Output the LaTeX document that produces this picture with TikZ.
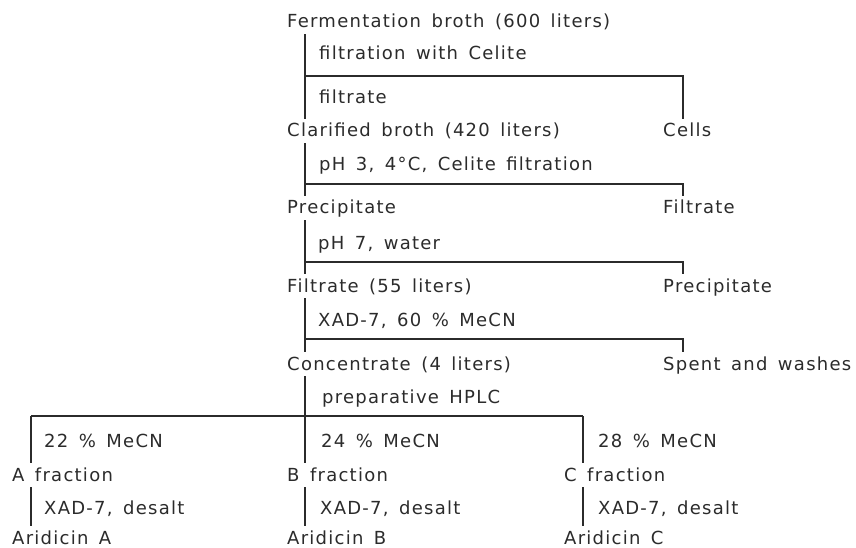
\documentclass[tikz,border=0pt]{standalone}
\usepackage{fontspec}
\setmainfont{DejaVu Sans}[LetterSpace=7,WordSpace=1.5]
\definecolor{ink}{HTML}{2B2B2B}
\begin{document}
\begin{tikzpicture}[x=1pt,y=-1pt,
  txt/.style={anchor=base west, inner xsep=0pt, inner ysep=3pt, text height=15pt, text depth=3pt,
              font=\fontsize{18}{21}\selectfont, text=ink},
  ln/.style={draw=ink, line width=1.5pt}]
\useasboundingbox (0,0) rectangle (856,548);
% trunk x positions
\coordinate (tr) at (305,0);
\coordinate (rc) at (683,0);
\coordinate (la) at (31,0);
\coordinate (lc) at (583,0);
% main column
\node[txt] (ferm)   at (287,28)  {Fermentation broth (600 liters)};
\node[txt] (l1)     at (319,60)  {filtration with Celite};
\node[txt] (l2)     at (319,104) {filtrate};
\node[txt] (clar)   at (287,137) {Clarified broth (420 liters)};
\node[txt] (cells)  at (663,137) {Cells};
\node[txt] (l3)     at (319,171) {pH 3, 4°C, Celite filtration};
\node[txt] (prec)   at (287,214) {Precipitate};
\node[txt] (filt)   at (663,214) {Filtrate};
\node[txt] (l4)     at (318,249) {pH 7, water};
\node[txt] (filtb)  at (287,292) {Filtrate (55 liters)};
\node[txt] (precb)  at (663,292) {Precipitate};
\node[txt] (l5)     at (318,326) {XAD-7, 60 \% MeCN};
\node[txt] (conc)   at (287,370) {Concentrate (4 liters)};
\node[txt] (spent)  at (663,370) {Spent and washes};
\node[txt] (l6)     at (322,403) {preparative HPLC};
% fractions
\node[txt] (l7a)    at (44,447)  {22 \% MeCN};
\node[txt] (l7b)    at (321,447) {24 \% MeCN};
\node[txt] (l7c)    at (598,447) {28 \% MeCN};
\node[txt] (fa)     at (12,481)  {A fraction};
\node[txt] (fb)     at (287,481) {B fraction};
\node[txt] (fc)     at (564,481) {C fraction};
\node[txt] (l8a)    at (44,514)  {XAD-7, desalt};
\node[txt] (l8b)    at (320,514) {XAD-7, desalt};
\node[txt] (l8c)    at (598,514) {XAD-7, desalt};
\node[txt, text depth=0pt] (ara) at (12,544)  {Aridicin A};
\node[txt, text depth=0pt] (arb) at (287,544) {Aridicin B};
\node[txt, text depth=0pt] (arc) at (564,544) {Aridicin C};
% junctions
\coordinate (j1) at (305,76);
\coordinate (j2) at (305,184);
\coordinate (j3) at (305,262);
\coordinate (j4) at (305,339);
\coordinate (ja) at (31,416);
\coordinate (jc) at (583,416);
% connectors
\draw[ln] (ferm.south -| tr) -- (clar.north -| tr);
\draw[ln] (j1) -| (cells.north -| rc);
\draw[ln] (clar.south -| tr) -- (prec.north -| tr);
\draw[ln] (j2) -| (filt.north -| rc);
\draw[ln] (prec.south -| tr) -- (filtb.north -| tr);
\draw[ln] (j3) -| (precb.north -| rc);
\draw[ln] (filtb.south -| tr) -- (conc.north -| tr);
\draw[ln] (j4) -| (spent.north -| rc);
\draw[ln] (conc.south -| tr) -- (fb.north -| tr);
\draw[ln] (ja) -- (jc);
\draw[ln] (ja) -- (fa.north -| la);
\draw[ln] (jc) -- (fc.north -| lc);
\draw[ln] (fa.south -| la) -- (ara.north -| la);
\draw[ln] (fb.south -| tr) -- (arb.north -| tr);
\draw[ln] (fc.south -| lc) -- (arc.north -| lc);
\end{tikzpicture}
\end{document}
